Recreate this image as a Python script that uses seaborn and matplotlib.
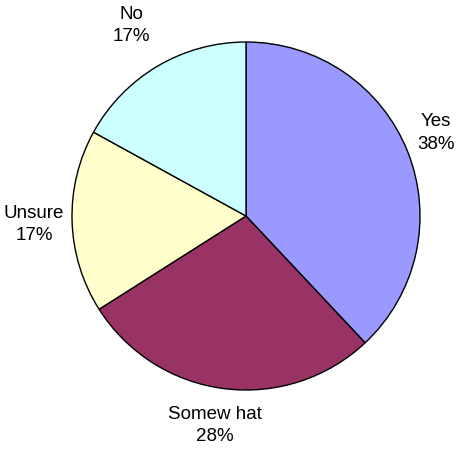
import numpy as np
import matplotlib
matplotlib.use("Agg")
import matplotlib.pyplot as plt
import seaborn as sns

categories = ["Yes", "Somew hat", "Unsure", "No"]
values = [38, 28, 17, 17]
colors = ["#9999FF", "#993366", "#FFFFCC", "#CCFFFF"]
label_dist = [1.191, 1.217, 1.22, 1.279]
label_ang_off = [2.0, -1.2, 0.4, 0.5]

sns.set_theme(style="white")
plt.rcParams['font.family'] = ['Liberation Sans', 'DejaVu Sans']

fig = plt.figure(figsize=(4.57, 4.5), dpi=100)
ax = fig.add_axes([0, 0, 1, 1])

cx, cy, r = 246, 234, 174
wedges, texts = ax.pie(values, colors=colors, startangle=90, counterclock=False,
                       center=(cx, cy), radius=r,
                       labels=[f"{c}\n{v}%" for c, v in zip(categories, values)],
                       wedgeprops=dict(edgecolor="black", linewidth=1.0),
                       frame=True)
ax.set_xlim(0, 457)
ax.set_ylim(0, 450)
ax.set_aspect('equal')
ax.axis('off')
for w, t, d, off in zip(wedges, texts, label_dist, label_ang_off):
    ang = np.deg2rad((w.theta1 + w.theta2) / 2 + off)
    t.set_position((cx + d * r * np.cos(ang), cy + d * r * np.sin(ang)))
    t.set_ha('center')
    t.set_va('center')
    t.set_fontsize(13.5)
    t.set_color('black')
    t.set_linespacing(1.4)

fig.savefig("out.png", dpi=100)
